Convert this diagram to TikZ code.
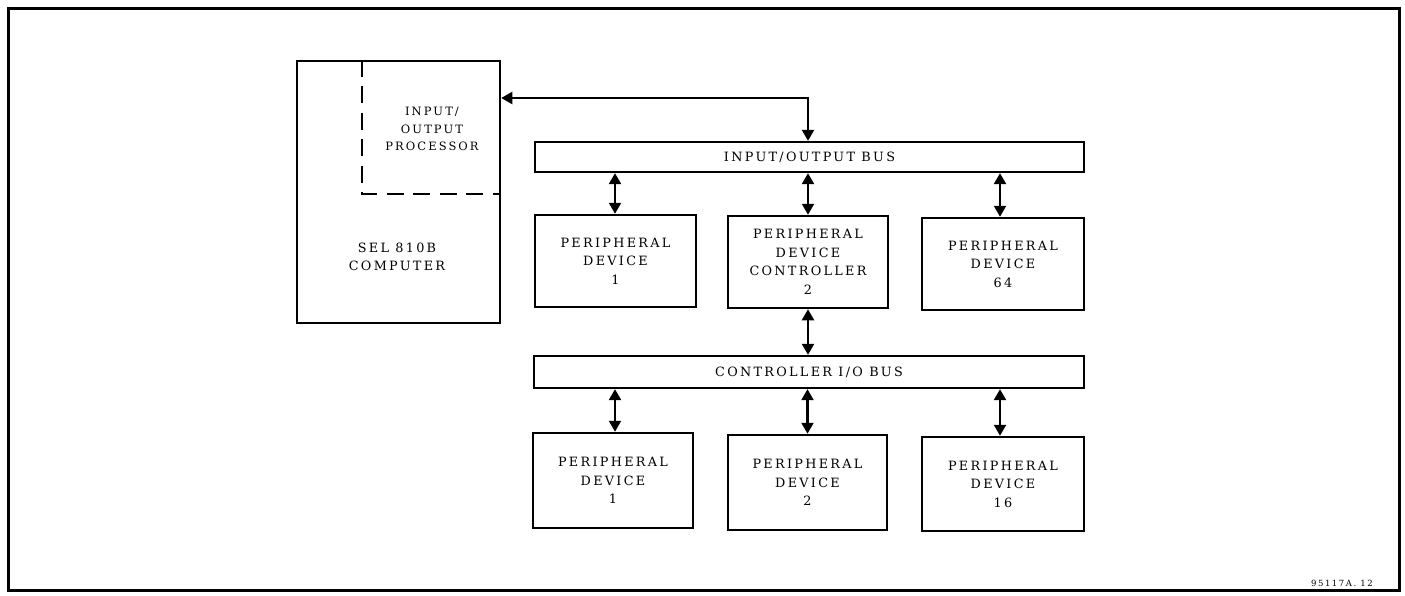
\documentclass[tikz,border=0pt]{standalone}
\usepackage{fontspec}
\setmainfont{DejaVu Serif}[LetterSpace=18]
\usetikzlibrary{arrows.meta}

\begin{document}
\begin{tikzpicture}[x=1pt,y=-1pt,
  box/.style={draw, line width=2.5pt, rectangle, inner sep=0pt, align=center,
              font=\fontsize{12.8}{18.5}\selectfont},
  bus/.style={box, line width=2.3pt},
  bi/.style={line width=2.2pt, {Triangle[length=11pt,width=12pt]}-{Triangle[length=11pt,width=12pt]}},
  iop/.style={line width=2.6pt, dash pattern=on 17pt off 9.5pt},
  lbl/.style={align=center, inner sep=0pt, font=\fontsize{12.8}{18.5}\selectfont},
  ioplbl/.style={lbl, font=\fontsize{11.5}{17.5}\selectfont}]

  % page and outer frame
  \fill[white] (0,0) rectangle (1405,595);
  \useasboundingbox (0,0) rectangle (1405,595);
  \draw[line width=3pt] (8,8) rectangle (1399,590);

  % computer with its input/output processor
  \node[box, minimum width=203pt, minimum height=262pt] (cpu) at (398.5,192) {};
  \coordinate (iopcorner) at (362,194);
  \draw[iop] (iopcorner |- cpu.north) -- (iopcorner) -- (iopcorner -| cpu.east);
  \node[ioplbl] (ioptext) at (432,129) {INPUT/\\OUTPUT\\PROCESSOR};
  \node[lbl] (cputext) at (397,257) {SEL 810B\\COMPUTER};

  % input/output bus and its devices
  \node[bus, minimum width=549pt, minimum height=30pt] (iobus) at (809.5,157) {INPUT/OUTPUT BUS};
  \node[box, minimum width=161pt, minimum height=92pt] (pd1) at (615.5,261) {PERIPHERAL\\DEVICE\\1};
  \node[box, minimum width=160pt, minimum height=92pt] (pdc) at (808,262) {PERIPHERAL\\DEVICE\\CONTROLLER\\2};
  \node[box, minimum width=162pt, minimum height=92pt] (pd64) at (1003,264) {PERIPHERAL\\DEVICE\\64};

  % controller bus and its devices
  \node[bus, minimum width=550pt, minimum height=32pt] (cbus) at (809,372) {CONTROLLER I/O BUS};
  \node[box, minimum width=160pt, minimum height=95pt] (pda) at (613,480.5) {PERIPHERAL\\DEVICE\\1};
  \node[box, minimum width=159pt, minimum height=95pt] (pdb) at (807.5,482.5) {PERIPHERAL\\DEVICE\\2};
  \node[box, minimum width=162pt, minimum height=94pt] (pdp) at (1003,484) {PERIPHERAL\\DEVICE\\16};

  % computer to bus link
  \coordinate (bend) at (808,98);
  \draw[bi] (cpu.east |- bend) -- (bend) -- (bend |- iobus.north);

  % bus links
  \draw[bi] (iobus.south -| 615,0) -- (pd1.north -| 615,0);
  \draw[bi] (iobus.south -| pdc.north) -- (pdc.north);
  \draw[bi] (iobus.south -| 1000,0) -- (pd64.north -| 1000,0);
  \draw[bi] (pdc.south) -- (cbus.north -| pdc.south);
  \draw[bi] (cbus.south -| 615,0) -- (pda.north -| 615,0);
  \draw[bi] (cbus.south -| pdb.north) -- (pdb.north);
  \draw[bi] (cbus.south -| 1000,0) -- (pdp.north -| 1000,0);

  % drawing number
  \node[inner sep=0pt, font=\fontsize{8.5}{11}\selectfont] (dwg) at (1342,583) {95117A. 12};
\end{tikzpicture}
\end{document}
